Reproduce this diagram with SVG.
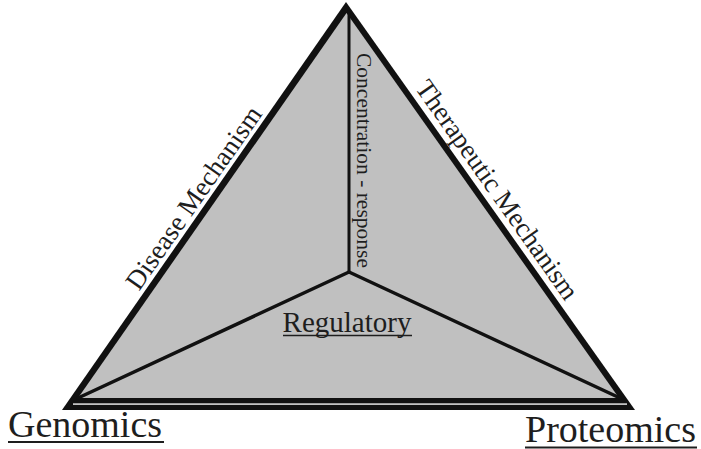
<svg xmlns="http://www.w3.org/2000/svg" width="701" height="449" viewBox="0 0 701 449">
  <style>
    .lbl { font-family: "Liberation Serif", "Times New Roman", serif; fill: #1e1e1e; }
    .rule { stroke: #1e1e1e; stroke-width: 2; }
    .spoke { stroke: #111; stroke-width: 3.5; stroke-linecap: round; fill: none; }
  </style>

  <rect width="701" height="449" fill="#ffffff"/>

  <!-- triangle body: black rim with grey face -->
  <g id="triangle">
    <polygon points="346,2 62,410 635,410" fill="#111111"/>
    <polygon points="346.5,13 78,398 619,398" fill="#c0c0c0"/>
    <rect x="73" y="403.3" width="554" height="1.6" fill="#d6d6d6"/>
  </g>

  <!-- spokes from the centre to each corner -->
  <g id="connectors">
    <line class="spoke" x1="349" y1="10" x2="349" y2="272" style="stroke-width:3"/>
    <line class="spoke" x1="349" y1="272" x2="78" y2="398"/>
    <line class="spoke" x1="349" y1="272" x2="620" y2="398"/>
  </g>

  <!-- edge labels -->
  <g id="disease-mechanism">
    <text class="lbl" font-size="27" text-anchor="middle" transform="translate(201,203) rotate(-55.1)">Disease Mechanism</text>
  </g>
  <g id="therapeutic-mechanism">
    <text class="lbl" font-size="27" text-anchor="middle" transform="translate(490,195) rotate(54.8)">Therapeutic Mechanism</text>
  </g>
  <g id="concentration-response">
    <text class="lbl" font-size="21.5" transform="translate(357,53) rotate(90)">Concentration - response</text>
  </g>

  <!-- inner label -->
  <g id="regulatory">
    <text class="lbl" font-size="29" x="347" y="332" text-anchor="middle">Regulatory</text>
    <line class="rule" x1="283" y1="335.5" x2="412" y2="335.5" style="stroke-width:1.6"/>
  </g>

  <!-- corner labels -->
  <g id="genomics">
    <text class="lbl" font-size="38" x="8" y="437">Genomics</text>
    <line class="rule" x1="8" y1="442" x2="164" y2="442"/>
  </g>
  <g id="proteomics">
    <text class="lbl" font-size="38" x="525" y="442">Proteomics</text>
    <line class="rule" x1="525" y1="447.5" x2="697" y2="447.5"/>
  </g>
</svg>
